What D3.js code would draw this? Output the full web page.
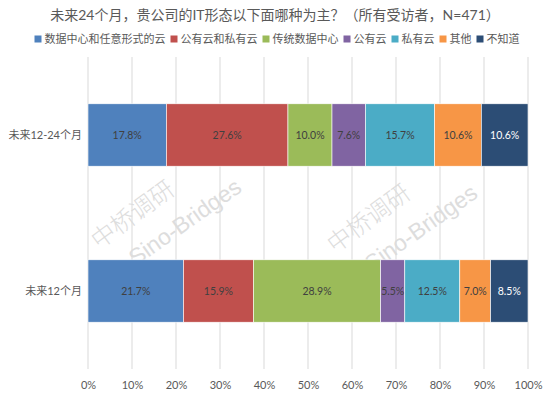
<!DOCTYPE html>
<html>
<head>
<meta charset="utf-8">
<script src="https://cdn.jsdelivr.net/npm/d3@7"></script>
<style>
  body { margin: 0; background: #fff; }
  svg { display: block; }
</style>
</head>
<body>
<div id="vis"></div>
<script>
// chart data
const title = '未来24个月，贵公司的IT形态以下面哪种为主？（所有受访者，N=471）'
const categories = ['未来12-24个月', '未来12个月']
const series = ['数据中心和任意形式的云', '公有云和私有云', '传统数据中心', '公有云', '私有云', '其他', '不知道']
const values12to24 = [17.8, 27.6, 10.0, 7.6, 15.7, 10.6, 10.6]
const values12 = [21.7, 15.9, 28.9, 5.5, 12.5, 7.0, 8.5]
const tickValues = [0, 0.1, 0.2, 0.3, 0.4, 0.5, 0.6, 0.7, 0.8, 0.9, 1]
const colors = ['#4F81BD', '#C0504D', '#9BBB59', '#8064A2', '#4BACC6', '#F79646', '#2C4D75']
const watermark = ['中桥调研', 'Sino-Bridges']

const W = 550, H = 396
const margin = {left: 88, right: 22, top: 57, bottom: 27}
const font = "Lato, 'Noto Sans CJK SC', sans-serif"

// rows for the stack
const rows = categories.map((c, i) => {
	let vals = i == 0 ? values12to24 : values12
	let row = {cat: c}
	series.forEach((s, j) => row[s] = vals[j])
	return row
})

const stack = d3.stack().keys(series).offset(d3.stackOffsetExpand)
const stacked = stack(rows)

const x = d3.scaleLinear([0, 1], [margin.left, W - margin.right])
const y = d3.scaleBand(categories, [margin.top, H - margin.bottom])
	.paddingInner(0.6).paddingOuter(0.3)
const color = d3.scaleOrdinal(series, colors)

const svg = d3.select('#vis').append('svg')
	.attr('width', W)
	.attr('height', H)
	.style('font-family', font)

// title
svg.append('text')
	.attr('x', 275)
	.attr('y', 20)
	.attr('text-anchor', 'middle')
	.attr('font-size', '14px')
	.attr('fill', '#595959')
	.text(title)

// legend, laid out from measured widths then centred
const legend = svg.append('g')
let lx = 0
series.forEach((s, i) => {
	let g = legend.append('g').attr('transform', `translate(${lx},0)`)
	g.append('rect')
		.attr('x', 0).attr('y', -3.5)
		.attr('width', 7).attr('height', 7)
		.attr('fill', color(s))
	let t = g.append('text')
		.attr('x', 10)
		.attr('y', 0)
		.attr('dy', '0.35em')
		.attr('font-size', '11px')
		.attr('fill', '#595959')
		.text(s)
	lx += 10 + t.node().getComputedTextLength() + 5
})
legend.attr('transform', `translate(${277 - (lx - 5) / 2},39)`)

// gridlines
svg.append('g')
	.selectAll('line')
	.data(tickValues).enter()
	.append('line')
	.attr('x1', d => x(d)).attr('x2', d => x(d))
	.attr('y1', margin.top).attr('y2', H - margin.bottom)
	.attr('stroke', '#d9d9d9')
	.attr('stroke-width', 1)

// watermark (sits behind the bars)
const wm = svg.append('g').attr('fill', '#dddddd')
;[0, 236].forEach(dx => {
	wm.append('text')
		.attr('transform', `translate(${94 + dx},${243 + dx / 60}) rotate(-36.5)`)
		.attr('dy', '0.35em')
		.attr('font-size', '24px')
		.attr('font-family', "'Noto Sans CJK SC', sans-serif")
		.attr('font-weight', 300)
		.text(watermark[0])
	wm.append('text')
		.attr('transform', `translate(${131 + dx},${260 + dx / 40}) rotate(-35.3)`)
		.attr('dy', '0.35em')
		.attr('font-size', '23px')
		.attr('font-family', "'Liberation Sans', sans-serif")
		.text(watermark[1])
})

// bars
const layers = svg.append('g')
	.selectAll('g')
	.data(stacked).enter()
	.append('g')
	.attr('fill', d => color(d.key))

layers.selectAll('rect')
	.data(d => d).enter()
	.append('rect')
	.attr('x', d => x(d[0]))
	.attr('y', d => y(d.data.cat))
	.attr('width', d => x(d[1]) - x(d[0]))
	.attr('height', y.bandwidth())
	.attr('stroke', '#ffffff')
	.attr('stroke-width', 0.6)

// value labels
stacked.forEach((layer, i) => {
	svg.append('g')
		.selectAll('text')
		.data(layer).enter()
		.append('text')
		.attr('x', d => (x(d[0]) + x(d[1])) / 2)
		.attr('y', d => y(d.data.cat) + y.bandwidth() / 2)
		.attr('dy', '0.35em')
		.attr('text-anchor', 'middle')
		.attr('font-size', '10.5px')
		.attr('fill', i == series.length - 1 ? '#ffffff' : '#404040')
		.text(d => d.data[layer.key].toFixed(1) + '%')
})

// category axis labels
svg.append('g')
	.selectAll('text')
	.data(categories).enter()
	.append('text')
	.attr('x', margin.left - 6)
	.attr('y', d => y(d) + y.bandwidth() / 2)
	.attr('dy', '0.35em')
	.attr('text-anchor', 'end')
	.attr('font-size', '11px')
	.attr('fill', '#595959')
	.text(d => d)

// percent axis
const xAxis = d3.axisBottom(x)
	.tickValues(tickValues)
	.tickFormat(d3.format('.0%'))
	.tickSize(0)
	.tickPadding(12)

svg.append('g')
	.attr('transform', `translate(0,${H - margin.bottom})`)
	.call(xAxis)
	.call(g => g.select('.domain').remove())
	.call(g => g.selectAll('text')
		.attr('font-size', '11px')
		.attr('font-family', font)
		.attr('fill', '#595959'))
</script>
</body>
</html>
